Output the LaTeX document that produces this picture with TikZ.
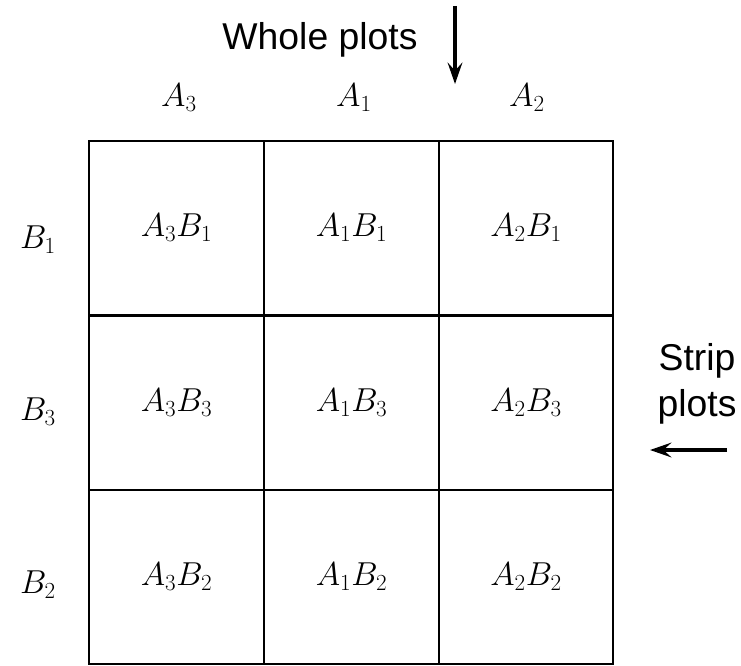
\documentclass[tikz,border=0pt]{standalone}
\usepackage{fontspec}
\newfontfamily\labfont{Liberation Sans}
\usetikzlibrary{arrows.meta}
\begin{document}
\begin{tikzpicture}[x=0.75pt,y=-0.75pt,
  cell/.style={draw,line width=1.5pt,minimum width=131pt,minimum height=131pt,inner sep=0pt,font=\fontsize{26}{30}\selectfont},
  hdr/.style={inner sep=0pt,font=\fontsize{26}{30}\selectfont},
  txt/.style={inner sep=0pt,font=\labfont\fontsize{28}{36}\selectfont,align=center},
  arr/.style={line width=3pt,-{Stealth[length=16pt,width=11pt,inset=6pt]}}]
\useasboundingbox (0,0) rectangle (741,666);
% cells
\node[cell] (c11) at (176.5,228) {$A_3B_1$};
\node[cell] (c12) at (351.5,228) {$A_1B_1$};
\node[cell] (c13) at (526,228) {$A_2B_1$};
\node[cell] (c21) at (176.5,403) {$A_3B_3$};
\node[cell] (c22) at (351.5,403) {$A_1B_3$};
\node[cell] (c23) at (526,403) {$A_2B_3$};
\node[cell] (c31) at (176.5,577) {$A_3B_2$};
\node[cell] (c32) at (351.5,577) {$A_1B_2$};
\node[cell] (c33) at (526,577) {$A_2B_2$};
% column headers
\node[hdr] (a3) at (179,98) {$A_3$};
\node[hdr] (a1) at (354,98) {$A_1$};
\node[hdr] (a2) at (527,98) {$A_2$};
% row headers
\node[hdr] (b1) at (38,240) {$B_1$};
\node[hdr] (b3) at (38,412) {$B_3$};
\node[hdr] (b2) at (38,585) {$B_2$};
% labels
\node[txt] (whole) at (320,40) {Whole plots};
\node[txt] (strip) at (697,384) {Strip\\[-2pt]plots};
% arrows
\coordinate (wt) at (455,6);
\coordinate (wb) at (455,84);
\draw[arr] (wt) -- (wb);
\coordinate (sr) at (727,450);
\coordinate (sl) at (650,450);
\draw[arr] (sr) -- (sl);
\end{tikzpicture}
\end{document}
